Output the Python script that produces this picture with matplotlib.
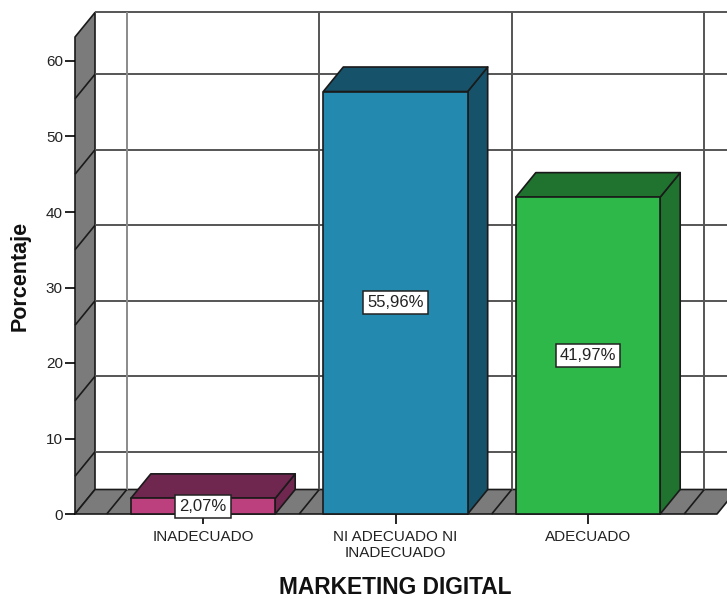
import matplotlib
matplotlib.use('Agg')
import matplotlib.pyplot as plt
from matplotlib.patches import Polygon
import numpy as np

plt.rcParams['font.family'] = ['Liberation Sans', 'DejaVu Sans']

categorias = ['INADECUADO', 'NI ADECUADO NI\nINADECUADO', 'ADECUADO']
porcentajes = [2.07, 55.96, 41.97]
yticks = [0, 10, 20, 30, 40, 50, 60]
colores_frente = ['#BC3F7E', '#2389AE', '#2FB84A']
colores_lado = ['#70274F', '#16536B', '#1F732E']

W, H = 727, 599
fig = plt.figure(figsize=(W / 100, H / 100), dpi=100)
# axes box is the front plane of the 3D frame
ax = fig.add_axes([75 / W, 1 - 514 / H, (717 - 75) / W, (514 - 37) / H])
ax.set_xlim((75 - 203) / 192.5, (717 - 203) / 192.5)
ax.set_ylim(0, (514 - 37) / 7.55)

# depth of the frame in data units
dx = 20 / 192.5
dy = 24.5 / 7.55
xmin, xmax = ax.get_xlim()
ymin, ymax = ax.get_ylim()
EDGE = '#1a1a1a'
GRID = '#555555'


def poly(pts, color, z, lw=1.2):
    ax.add_patch(Polygon(pts, closed=True, facecolor=color, edgecolor=EDGE,
                         linewidth=lw, zorder=z, clip_on=False, joinstyle='round'))


def line(xs, ys, color=EDGE, lw=1.2, z=2):
    ax.plot(xs, ys, color=color, lw=lw, zorder=z, clip_on=False, solid_capstyle='butt')


# left wall and floor
poly([(xmin, ymin), (xmin + dx, dy), (xmin + dx, ymax + dy), (xmin, ymax)], '#7b7b7b', 1)
poly([(xmin, ymin), (xmax, ymin), (xmax + dx, dy), (xmin + dx, dy)], '#7b7b7b', 1)
line([xmin + dx, xmax + 2 * dx], [ymax + dy, ymax + dy], GRID, 1.4)

# grid on the back wall, carried over the left wall and the floor
for v in np.arange(5, 60, 10):
    line([xmin + dx, xmax + 2 * dx], [v + dy, v + dy], GRID, 1.4)
    line([xmin, xmin + dx], [v, v + dy])
for c in [-0.5, 0.5, 1.5, 2.5]:
    line([c + dx, c + dx], [dy, ymax + dy], '#8a8a8a' if c < 0 else GRID, 1.4)
    line([c, c + dx], [ymin, dy])

# bars
ancho = 0.375
for i, v in enumerate(porcentajes):
    x0, x1 = i - ancho, i + ancho
    poly([(x1, 0), (x1 + dx, dy), (x1 + dx, v + dy), (x1, v)], colores_lado[i], 3)
    poly([(x0, v), (x1, v), (x1 + dx, v + dy), (x0 + dx, v + dy)], colores_lado[i], 3)
    poly([(x0, 0), (x1, 0), (x1, v), (x0, v)], colores_frente[i], 4)
    ax.text(i, v / 2, f'{v:.2f}%'.replace('.', ','), ha='center', va='center',
            fontsize=12, color='#222222', zorder=6,
            bbox=dict(boxstyle='square,pad=0.25', fc='white', ec='#222222', lw=1.1))

for s in ax.spines.values():
    s.set_visible(False)
ax.patch.set_visible(False)
ax.set_xticks(range(3))
ax.set_xticklabels(categorias, fontsize=11, color='#222222', linespacing=1.2)
ax.set_yticks(yticks)
ax.tick_params(axis='y', length=7.2, width=1.2, labelsize=11, labelcolor='#222222', pad=1.5)
ax.tick_params(axis='x', length=7.2, width=1.2, pad=4)
ax.set_xlabel('MARKETING DIGITAL', fontsize=16.4, fontweight='bold', color='#111111')
ax.xaxis.set_label_coords((395 - 75) / (717 - 75), -(588 - 514) / (514 - 37), transform=ax.transAxes)
ax.xaxis.label.set_va('center')
ax.set_ylabel('Porcentaje', fontsize=15.5, fontweight='bold', color='#111111')
ax.yaxis.set_label_coords((20 - 75) / (717 - 75), (514 - 276) / (514 - 37), transform=ax.transAxes)
ax.yaxis.label.set_va('center')

fig.savefig('out.png', dpi=100)
